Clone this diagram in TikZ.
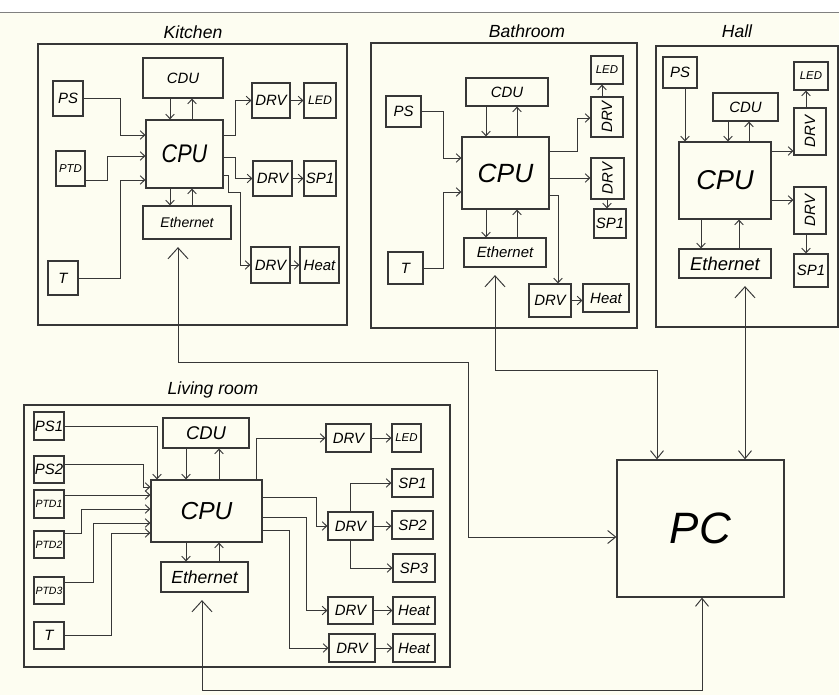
\documentclass[tikz,border=0pt]{standalone}
\usepackage{fontspec}
\setmainfont{Liberation Sans}
\usepackage{graphicx}
\usepackage{xcolor}
\usepackage{tikz}
\usetikzlibrary{arrows.meta}

\definecolor{paper}{RGB}{253,253,241}
\definecolor{ln}{RGB}{55,55,55}

\begin{document}
\begin{tikzpicture}[
  x=0.02cm, y=-0.02cm,
  box/.style={draw=ln, line width=0.7pt, inner sep=0pt, align=center, font=\fontsize{#1}{#1}\selectfont\itshape},
  box/.default=8.5,
  sz/.style 2 args={minimum width=#1*0.02cm, minimum height=#2*0.02cm},
  room/.style={draw=ln, line width=0.7pt},
  title/.style={font=\fontsize{10}{10}\selectfont\itshape},
  arr/.style={draw=ln, line width=0.55pt, -{Straight Barb[length=0.9mm,width=1.7mm]}},
  lnk/.style={draw=ln, line width=0.55pt, {Straight Barb[length=2.2mm,width=4mm]}-{Straight Barb[length=1.6mm,width=2.6mm]}, shorten <=1.5mm}
]
  \useasboundingbox (0,0) rectangle (839,695);
  \fill[paper] (0,0) rectangle (839,695);
  \fill[white] (0,0) rectangle (839,12);
  \draw[gray, line width=1pt] (0,12.5) -- (839,12.5);

  % kitchen
  \node[room, sz={309}{281}] (kitchen) at (192.5,184.5) {};
  \node[title] (ktitle) at (193,32) {Kitchen};
  \node[box, sz={80}{40}] (kcdu) at (183,78) {CDU};
  \node[box=14.5, sz={77}{68}] (kcpu) at (184.5,154) {\scalebox{.85}[1]{CPU}};
  \node[box=8, sz={88}{33}] (keth) at (187,222.5) {Ethernet};
  \node[box, sz={30}{35}] (kps) at (68,98.5) {PS};
  \node[box=6.5, sz={29}{35}] (kptd) at (70.5,168.5) {PTD};
  \node[box, sz={30}{34}] (kt) at (63,278) {T};
  \node[box, sz={38}{35}] (kdrva) at (271,100.5) {DRV};
  \node[box=7, sz={32}{35}] (kled) at (320,100.5) {LED};
  \node[box, sz={39}{35}] (kdrvb) at (272.5,178.5) {DRV};
  \node[box, sz={32}{35}] (ksp) at (320,178.5) {SP1};
  \node[box, sz={39}{36}] (kdrvc) at (270.5,265) {DRV};
  \node[box, sz={39}{36}] (kheat) at (319.5,265) {Heat};

  \draw[arr] (kps.east) -| (120,135) -- (kcpu.west |- 0,135);
  \draw[arr] (kptd.east |- 0,180) -| (107,156) -- (kcpu.west |- 0,156);
  \draw[arr] (kt.east) -| (120,180) -- (kcpu.west |- 0,180);
  \draw[arr] (kcdu.south -| 170,0) -- (kcpu.north -| 170,0);
  \draw[arr] (kcpu.north -| 192,0) -- (kcdu.south -| 192,0);
  \draw[arr] (kcpu.south -| 170,0) -- (keth.north -| 170,0);
  \draw[arr] (keth.north -| 192,0) -- (kcpu.south -| 192,0);
  \draw[arr] (kcpu.east |- 0,135) -| (235,100.5) -- (kdrva.west);
  \draw[arr] (kcpu.east |- 0,157) -| (235,178.5) -- (kdrvb.west);
  \draw[arr] (kcpu.east |- 0,175) -| (228,192) -| (240,265) -- (kdrvc.west);
  \draw[arr] (kdrva) -- (kled);
  \draw[arr] (kdrvb) -- (ksp);
  \draw[arr] (kdrvc) -- (kheat);

  % bathroom
  \node[room, sz={266}{285}] (bathroom) at (504,185.5) {};
  \node[title] (btitle) at (527,31) {Bathroom};
  \node[box, sz={82}{28}] (bcdu) at (507,92) {CDU};
  \node[box=15, sz={87}{72}] (bcpu) at (505.5,173) {CPU};
  \node[box, sz={82}{29}] (beth) at (505,252.5) {Ethernet};
  \node[box, sz={35}{31}] (bps) at (403.5,111.5) {PS};
  \node[box, sz={35}{32}] (bt) at (405.5,268) {T};
  \node[box=6.5, sz={32}{28}] (bled) at (607,70) {LED};
  \node[box, sz={32}{40}] (bdrva) at (607,117) {\rotatebox{90}{DRV}};
  \node[box, sz={33}{41}] (bdrvb) at (607.5,178.5) {\rotatebox{90}{DRV}};
  \node[box, sz={32}{29}] (bsp) at (610,223.5) {SP1};
  \node[box, sz={42}{33}] (bdrvc) at (550,300.5) {DRV};
  \node[box, sz={46}{28}] (bheat) at (606,298) {Heat};

  \draw[arr] (bps.east) -| (443,158) -- (bcpu.west |- 0,158);
  \draw[arr] (bt.east) -| (443,192) -- (bcpu.west |- 0,192);
  \draw[arr] (bcdu.south -| 486,0) -- (bcpu.north -| 486,0);
  \draw[arr] (bcpu.north -| 517,0) -- (bcdu.south -| 517,0);
  \draw[arr] (bcpu.south -| 486,0) -- (beth.north -| 486,0);
  \draw[arr] (beth.north -| 517,0) -- (bcpu.south -| 517,0);
  \draw[arr] (bcpu.east |- 0,151) -| (577,118) -- (bdrva.west |- 0,118);
  \draw[arr] (bdrva.north -| 602,0) -- (bled.south -| 602,0);
  \draw[arr] (bcpu.east |- 0,178) -- (bdrvb.west |- 0,178);
  \draw[arr] (bdrvb.south -| 607,0) -- (bsp.north -| 607,0);
  \draw[arr] (bcpu.east |- 0,195) -| (bdrvc.north -| 558,0);
  \draw[arr] (bdrvc.east) -- (bheat.west |- bdrvc.east);

  % hall
  \node[room, sz={182}{281}] (hall) at (747,186.5) {};
  \node[title] (htitle) at (737,31) {Hall};
  \node[box, sz={34}{31}] (hps) at (680,72.5) {PS};
  \node[box, sz={65}{28}] (hcdu) at (745.5,107) {CDU};
  \node[box=15.5, sz={92}{77}] (hcpu) at (725,180.5) {CPU};
  \node[box=10.5, sz={92}{29}] (heth) at (725,263.5) {Ethernet};
  \node[box=6.5, sz={34}{28}] (hled) at (811,76) {LED};
  \node[box, sz={32}{47}] (hdrva) at (810,131.5) {\rotatebox{90}{DRV}};
  \node[box, sz={32}{47}] (hdrvb) at (810,210.5) {\rotatebox{90}{DRV}};
  \node[box, sz={34}{33}] (hsp) at (811,270.5) {SP1};

  \draw[arr] (hps.south -| 685,0) -- (hcpu.north -| 685,0);
  \draw[arr] (hcdu.south -| 728,0) -- (hcpu.north -| 728,0);
  \draw[arr] (hcpu.north -| 749,0) -- (hcdu.south -| 749,0);
  \draw[arr] (hcpu.south -| 701,0) -- (heth.north -| 701,0);
  \draw[arr] (heth.north -| 739,0) -- (hcpu.south -| 739,0);
  \draw[arr] (hcpu.east |- 0,151) -- (hdrva.west |- 0,151);
  \draw[arr] (hdrva.north -| 806,0) -- (hled.south -| 806,0);
  \draw[arr] (hcpu.east |- 0,200) -- (hdrvb.west |- 0,200);
  \draw[arr] (hdrvb.south -| 806,0) -- (hsp.north -| 806,0);

  % living room
  \node[room, sz={426}{262}] (living) at (237,536) {};
  \node[title] (ltitle) at (213,390) {Living room};
  \node[box, sz={30}{28}] (lps1) at (49,426) {PS1};
  \node[box, sz={30}{27}] (lps2) at (49,469.5) {PS2};
  \node[box=6, sz={30}{28}] (lptda) at (49,504) {PTD1};
  \node[box=6, sz={30}{27}] (lptdb) at (49,544.5) {PTD2};
  \node[box=6, sz={30}{27}] (lptdc) at (49,590.5) {PTD3};
  \node[box, sz={30}{27}] (lt) at (49,635.5) {T};
  \node[box=10.5, sz={86}{30}] (lcdu) at (206,433) {CDU};
  \node[box=14, sz={111}{62}] (lcpu) at (206.5,511) {CPU};
  \node[box=10, sz={87}{30}] (leth) at (204.5,577) {Ethernet};
  \node[box, sz={45}{28}] (ldrva) at (348.5,438) {DRV};
  \node[box=6.5, sz={29}{28}] (lled) at (406.5,438) {LED};
  \node[box, sz={41}{28}] (lsp1) at (412.5,483) {SP1};
  \node[box, sz={45}{28}] (ldrvb) at (350.5,526) {DRV};
  \node[box, sz={41}{28}] (lsp2) at (412.5,525) {SP2};
  \node[box, sz={42}{28}] (lsp3) at (414,568) {SP3};
  \node[box, sz={45}{27}] (ldrvc) at (350.5,610.5) {DRV};
  \node[box, sz={42}{27}] (lheata) at (414,610.5) {Heat};
  \node[box, sz={46}{28}] (ldrvd) at (352,648) {DRV};
  \node[box, sz={42}{28}] (lheatb) at (414,648) {Heat};

  \draw[arr] (lps1.east) -| (lcpu.north -| 157,0);
  \draw[arr] (lps2.east |- 0,464) -| (143,487) -- (lcpu.west |- 0,487);
  \draw[arr] (lptda.east |- 0,495) -- (lcpu.west |- 0,495);
  \draw[arr] (lptdb.east |- 0,533) -| (81,509) -- (lcpu.west |- 0,509);
  \draw[arr] (lptdc.east |- 0,582) -| (93,523) -- (lcpu.west |- 0,523);
  \draw[arr] (lt.east) -| (111,533) -- (lcpu.west |- 0,533);
  \draw[arr] (lcdu.south -| 186,0) -- (lcpu.north -| 186,0);
  \draw[arr] (lcpu.north -| 219,0) -- (lcdu.south -| 219,0);
  \draw[arr] (lcpu.south -| 186,0) -- (leth.north -| 186,0);
  \draw[arr] (leth.north -| 219,0) -- (lcpu.south -| 219,0);
  \draw[arr] (lcpu.north -| 256,0) |- (ldrva.west);
  \draw[arr] (ldrva) -- (lled);
  \draw[arr] (lcpu.east |- 0,497) -| (316,526) -- (ldrvb.west);
  \draw[arr] (ldrvb.north -| 350,0) |- (lsp1.west);
  \draw[arr] (ldrvb.east) -- (lsp2.west |- ldrvb.east);
  \draw[arr] (ldrvb.south -| 350,0) |- (lsp3.west);
  \draw[arr] (lcpu.east |- 0,517) -| (306,610.5) -- (ldrvc.west);
  \draw[arr] (lcpu.east |- 0,530) -| (289,648) -- (ldrvd.west);
  \draw[arr] (ldrvc) -- (lheata);
  \draw[arr] (ldrvd) -- (lheatb);

  % pc and network
  \node[box=25, sz={167}{137}] (pc) at (700.5,528.5) {PC};
  \draw[lnk] (keth.south -| 178,0) -- (178,362) -| (468,537) -- (pc.west |- 0,537);
  \draw[lnk] (beth.south -| 495,0) -- (495,370) -| (pc.north -| 657,0);
  \draw[lnk] (heth.south -| 745,0) -- (pc.north -| 745,0);
  \draw[lnk] (leth.south -| 202,0) -- (202,690) -| (pc.south -| 702,0);
\end{tikzpicture}
\end{document}
